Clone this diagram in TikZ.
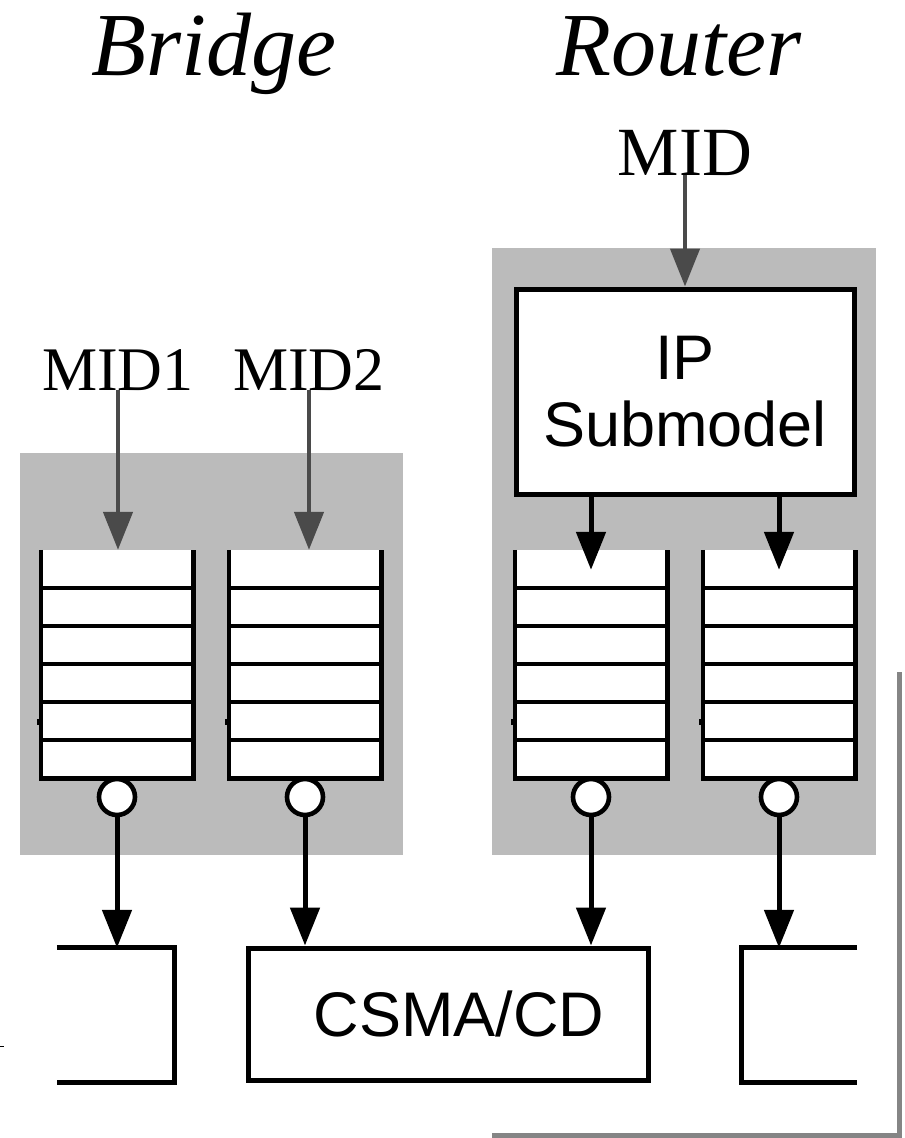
\documentclass[tikz,border=0pt]{standalone}
\usepackage{fontspec}
\setmainfont{Liberation Serif}
\newfontfamily\helv{Liberation Sans}
\usetikzlibrary{arrows.meta,calc}
\definecolor{panelgray}{HTML}{BBBBBB}
\definecolor{feedgray}{HTML}{4A4A4A}
\definecolor{framegray}{HTML}{858585}
\tikzset{
  panel/.style={fill=panelgray},
  title/.style={anchor=base,inner sep=0pt,font=\fontsize{90}{90}\selectfont\itshape},
  midlabel/.style={anchor=base,inner sep=0pt,font=\fontsize{62}{62}\selectfont},
  slotfill/.style={fill=white,draw=none,minimum width=152pt,minimum height=228pt,inner sep=0pt},
  qline/.style={line width=4.6pt},
  port/.style={circle,draw,fill=white,line width=4.6pt,minimum size=36pt,inner sep=0pt},
  feed/.style={draw=feedgray,line width=4.6pt,-{Triangle[length=38pt,width=29pt]}},
  flow/.style={draw=black,line width=5pt,-{Triangle[length=38pt,width=29pt]}},
  modbox/.style={draw,line width=5pt,fill=white,inner sep=0pt,font=\helv\fontsize{63}{67}\selectfont,align=center},
  openbox/.style={draw=none,inner sep=0pt},
  edge/.style={line width=5pt}
}
\begin{document}
\begin{tikzpicture}[x=1pt,y=-1pt]
  \useasboundingbox (0,0) rectangle (905,1138);

  % shaded groups
  \fill[panel] (20,453) rectangle (403,855);
  \fill[panel] (492,248) rectangle (876,855);

  % outer frame edge
  \coordinate (fa) at (899,672);
  \coordinate (fb) at (899,1135);
  \coordinate (fc) at (492,1135);
  \draw[draw=framegray,line width=5pt] (fa) -- (fb) -- (fc);
  \draw[line width=1pt] (0,1046) -- (4,1046);

  % titles
  \node[title] (bridge) at (214,75) {Bridge};
  \node[title] (router) at (679,75) {Router};

  % message inputs
  \node[midlabel,font=\fontsize{69}{69}\selectfont] (mid) at (685,175) {MID};
  \node[midlabel] (mid1) at (118,390) {MID1};
  \node[midlabel] (mid2) at (309,390) {MID2};

  % IP submodel
  \node[modbox,minimum width=338pt,minimum height=205pt] (ip) at (685,391.5) {IP\\Submodel};

  % queues with their server ports
  \foreach \n/\x in {1/117,2/305,3/591,4/779} {
    \node[slotfill] (q\n) at (\x,664) {};
    \draw[qline] (q\n.north west) -- (q\n.south west) -- (q\n.south east) -- (q\n.north east);
    \foreach \k in {1,...,5}
      \draw[qline] ($(q\n.north west)+(0,38*\k)$) -- ($(q\n.north east)+(0,38*\k)$);
    \fill ($(q\n.north west)+(-4,169)$) rectangle ($(q\n.north west)+(0,175)$);
    \node[port] (c\n) at (\x,797) {};
  }

  % output links
  \node[openbox,minimum width=117pt,minimum height=134pt] (lb) at (115.5,1015) {};
  \draw[edge] (lb.north west) -- (lb.north east) -- (lb.south east) -- (lb.south west);
  \node[modbox,minimum width=400pt,minimum height=132pt] (csma) at (448,1014)
    {\hspace*{22pt}CSMA/CD};
  \node[openbox,minimum width=115pt,minimum height=134pt] (rb) at (799.5,1015) {};
  \draw[edge] (rb.north east) -- (rb.north west) -- (rb.south west) -- (rb.south east);

  % arrivals
  \draw[feed] (mid.south) -- (ip.north);
  \draw[feed] (mid1.south) -- (mid1.south |- q1.north);
  \draw[feed] (mid2.south) -- (mid2.south |- q2.north);
  \draw[flow] (ip.south -| q3.north) -- ($(q3.north)+(0,20)$);
  \draw[flow] (ip.south -| q4.north) -- ($(q4.north)+(0,20)$);

  % departures
  \draw[flow] (c1.south) -- (c1.south |- lb.north);
  \draw[flow] (c2.south) -- (c2.south |- csma.north);
  \draw[flow] (c3.south) -- (c3.south |- csma.north);
  \draw[flow] (c4.south) -- (c4.south |- rb.north);
\end{tikzpicture}
\end{document}
